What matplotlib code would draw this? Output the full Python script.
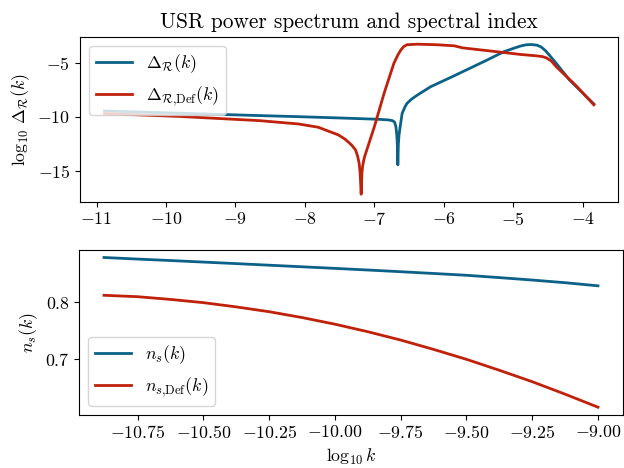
import numpy as np
import matplotlib
matplotlib.use("Agg")
import matplotlib.pyplot as plt

plt.rcParams['font.family'] = 'serif'
plt.rcParams['font.serif'] = ['cmr10']
plt.rcParams['mathtext.fontset'] = 'cm'
plt.rcParams['axes.formatter.use_mathtext'] = True
plt.rcParams['font.size'] = 12.8

BLUE = '#0b6187'
RED = '#c0210a'

# top panel: log10 k vs log10 Delta_R
lk_usr = [-10.886, -9.8, -8.65, -8.09, -7.5, -6.95, -6.8, -6.74, -6.71, -6.69, -6.677,
          -6.668, -6.662, -6.655, -6.645, -6.63, -6.60, -6.56, -6.53, -6.46, -6.38,
          -6.19, -5.85, -5.38, -5.14, -4.98, -4.90, -4.82, -4.74, -4.66, -4.60, -4.54,
          -4.48, -4.38, -4.19, -4.0, -3.84]
d_usr = [-9.47, -9.68, -9.9, -10.0, -10.12, -10.24, -10.3, -10.37, -10.5, -10.93, -11.7,
         -12.8, -14.47, -12.6, -11.7, -11.0, -9.69, -9.1, -8.76, -8.35, -7.99,
         -7.22, -6.2, -4.75, -3.98, -3.62, -3.45, -3.33, -3.30, -3.36, -3.52, -3.85,
         -4.29, -5.06, -6.6, -7.8, -8.82]

lk_def = [-10.886, -9.8, -8.65, -8.09, -7.81, -7.52, -7.42, -7.33, -7.27, -7.24, -7.22,
          -7.205, -7.19, -7.18, -7.17, -7.155, -7.14, -7.0, -6.86, -6.72, -6.66,
          -6.62, -6.58, -6.53, -6.38, -6.1, -5.85, -5.8, -5.73, -5.14, -4.90,
          -4.67, -4.58, -4.52, -4.45, -4.38, -4.1, -3.84]
d_def = [-9.72, -9.98, -10.37, -10.68, -10.98, -11.69, -12.1, -12.62, -13.1, -13.7, -14.3,
         -15.2, -17.2, -15.3, -14.63, -14.1, -13.7, -10.93, -7.83, -5.06, -4.25,
         -3.82, -3.5, -3.32, -3.27, -3.32, -3.42, -3.5, -3.61, -4.04, -4.22,
         -4.35, -4.42, -4.55, -4.85, -5.37, -7.1, -8.9]

# bottom panel: spectral index
lk_ns = [-10.878, -10.75, -10.625, -10.5, -10.375, -10.25, -10.125, -10.0,
         -9.875, -9.75, -9.625, -9.5, -9.375, -9.25, -9.125, -9.0]
ns_usr = [0.879, 0.8762, 0.8736, 0.8709, 0.8682, 0.8654, 0.8626, 0.8598,
          0.8569, 0.8539, 0.8508, 0.8476, 0.8435, 0.8392, 0.8345, 0.829]
ns_def = [0.8123, 0.8098, 0.8050, 0.7993, 0.7918, 0.7833, 0.7730, 0.7613,
          0.7480, 0.7333, 0.7168, 0.6993, 0.6800, 0.6598, 0.6378, 0.6148]

fig = plt.figure(figsize=(6.24, 4.68), dpi=100)
ax1 = fig.add_axes([0.1282, 0.5690, 0.8627, 0.3526])
ax2 = fig.add_axes([0.1271, 0.1139, 0.8708, 0.3519])

ax1.plot(lk_usr, d_usr, color=BLUE, lw=2, label=r'$\Delta_{\mathcal{R}}(k)$')
ax1.plot(lk_def, d_def, color=RED, lw=2, label=r'$\Delta_{\mathcal{R}{,}\mathrm{Def}}(k)$')
ax1.set_ylabel(r'$\log_{10}\,\Delta_{\mathcal{R}}(k)$')
ax1.set_title('USR power spectrum and spectral index')
ax1.legend(loc='upper left')

ax2.plot(lk_ns, ns_usr, color=BLUE, lw=2, label=r'$n_s(k)$')
ax2.plot(lk_ns, ns_def, color=RED, lw=2, label=r'$n_{s{,}\mathrm{Def}}(k)$')
ax2.set_xlabel(r'$\log_{10} k$')
ax2.set_ylabel(r'$n_s(k)$')
ax2.legend(loc='lower left')

fig.savefig('out.png')
